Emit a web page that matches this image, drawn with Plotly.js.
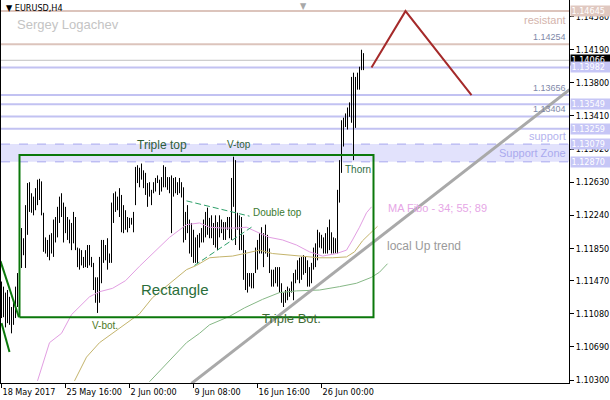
<!DOCTYPE html>
<html><head><meta charset="utf-8">
<script src="https://cdn.plot.ly/plotly-3.0.1.min.js"></script>
<style>html,body{margin:0;padding:0;background:#fff}#chart{width:610px;height:400px}</style>
</head><body><div id="chart"></div>
<script>
// ---- data (EURUSD H4) ----
const barHigh = [1.1146,1.1140,1.1133,1.1136,1.1128,1.1116,1.1121,1.1140,1.1156,1.1185,
1.1209,1.1197,1.1236,1.1262,1.1263,1.1250,1.1246,1.1256,1.1266,1.1267,
1.1264,1.1227,1.1198,1.1195,1.1201,1.1203,1.1219,1.1222,1.1234,1.1246,
1.1250,1.1239,1.1234,1.1222,1.1219,1.1215,1.1228,1.1222,1.1186,1.1185,
1.1183,1.1175,1.1183,1.1189,1.1189,1.1175,1.1168,1.1151,1.1151,1.1175,
1.1195,1.1195,1.1189,1.1197,1.1179,1.1239,1.1250,1.1252,1.1246,1.1256,
1.1248,1.1236,1.1230,1.1222,1.1221,1.1221,1.1228,1.1281,1.1283,1.1280,
1.1285,1.1277,1.1274,1.1262,1.1263,1.1254,1.1263,1.1268,1.1271,1.1266,
1.1269,1.1283,1.1281,1.1269,1.1269,1.1271,1.1268,1.1269,1.1263,1.1268,
1.1263,1.1257,1.1228,1.1236,1.1219,1.1215,1.1207,1.1198,1.1201,1.1203,
1.1209,1.1219,1.1228,1.1233,1.1221,1.1224,1.1215,1.1224,1.1216,1.1224,
1.1219,1.1216,1.1216,1.1222,1.1222,1.1268,1.1293,1.1289,1.1227,1.1224,
1.1222,1.1201,1.1183,1.1156,1.1156,1.1156,1.1156,1.1186,1.1195,1.1203,
1.1210,1.1203,1.1213,1.1201,1.1185,1.1160,1.1160,1.1163,1.1163,1.1163,
1.1144,1.1133,1.1136,1.1140,1.1138,1.1146,1.1156,1.1160,1.1171,1.1174,
1.1175,1.1177,1.1175,1.1171,1.1163,1.1168,1.1186,1.1191,1.1207,1.1204,
1.1201,1.1198,1.1203,1.1210,1.1219,1.1204,1.1198,1.1197,1.1254,1.1289,
1.1336,1.1339,1.1344,1.1351,1.1357,1.1387,1.1392,1.1387,1.1392,1.1399,
1.1419,1.1415];
const barLow = [1.1103,1.1104,1.1092,1.1097,1.1095,1.1085,1.1095,1.1103,1.1116,1.1136,
1.1162,1.1177,1.1162,1.1201,1.1228,1.1227,1.1224,1.1230,1.1236,1.1242,
1.1224,1.1181,1.1179,1.1175,1.1171,1.1179,1.1175,1.1192,1.1198,1.1215,
1.1222,1.1192,1.1203,1.1195,1.1191,1.1183,1.1191,1.1183,1.1163,1.1160,
1.1165,1.1162,1.1163,1.1162,1.1165,1.1163,1.1136,1.1121,1.1109,1.1121,
1.1144,1.1168,1.1171,1.1160,1.1168,1.1168,1.1215,1.1228,1.1230,1.1222,
1.1204,1.1203,1.1207,1.1204,1.1209,1.1213,1.1204,1.1236,1.1262,1.1257,
1.1266,1.1256,1.1248,1.1234,1.1246,1.1236,1.1250,1.1252,1.1262,1.1248,
1.1252,1.1257,1.1257,1.1254,1.1250,1.1203,1.1246,1.1250,1.1248,1.1250,
1.1245,1.1192,1.1195,1.1203,1.1179,1.1175,1.1168,1.1168,1.1168,1.1186,
1.1192,1.1192,1.1198,1.1201,1.1197,1.1197,1.1189,1.1186,1.1183,1.1198,
1.1203,1.1195,1.1195,1.1207,1.1197,1.1195,1.1234,1.1189,1.1207,1.1183,
1.1183,1.1148,1.1136,1.1133,1.1140,1.1138,1.1138,1.1156,1.1160,1.1179,
1.1179,1.1163,1.1179,1.1175,1.1156,1.1140,1.1140,1.1144,1.1140,1.1133,
1.1121,1.1116,1.1121,1.1124,1.1128,1.1133,1.1124,1.1144,1.1148,1.1144,
1.1148,1.1154,1.1156,1.1140,1.1140,1.1144,1.1160,1.1163,1.1171,1.1186,
1.1185,1.1179,1.1179,1.1179,1.1183,1.1179,1.1179,1.1179,1.1179,1.1239,
1.1274,1.1305,1.1328,1.1325,1.1340,1.1333,1.1289,1.1327,1.1372,1.1372,
1.1395,1.1395];

// moving averages (bar index, price)
const ma34X = [18,24,30,35,44,49,55.5,62,69,75.5,84,92.5,99,104,110.5,117.5,122.5,129,134,140.5,147.5,154,160.5,167.5,172.5,175.5,179,182.5,185];
const ma34Y = [1.1029,1.1074,1.1085,1.1107,1.1128,1.1134,1.1138,1.1147,1.1164,1.1179,1.1198,1.1213,1.1215,1.1210,1.1209,1.1209,1.1210,1.1203,1.1198,1.1195,1.1189,1.1181,1.1176,1.1179,1.1183,1.1195,1.1210,1.1227,1.1234];
const ma55X = [36.5,42.5,49,55.5,62.5,69,75.5,84,92.5,97.5,104,109,115.5,121.5,129,135.5,144,152.5,159,165.5,172.5,176.5,180.5,184,188];
const ma55Y = [1.1029,1.1057,1.1074,1.1085,1.1096,1.1108,1.1127,1.1144,1.1160,1.1165,1.1174,1.1175,1.1176,1.1179,1.1183,1.1179,1.1177,1.1175,1.1174,1.1174,1.1175,1.1181,1.1194,1.1202,1.1211];
const ma89X = [74,85.5,92.5,99,104,114,121.5,130.5,139,147.5,159,169,177.5,185,189,193];
const ma89Y = [1.1028,1.1057,1.1074,1.1085,1.1095,1.1105,1.1115,1.1125,1.1133,1.1135,1.1136,1.1140,1.1144,1.1151,1.1157,1.1167];

// drawn objects
const trendX = [95,284], trendY = [1.1026,1.1372];               // local Up trend
const zigX = [185,202,235], zigY = [1.13982,1.14645,1.13656];    // forecast
const rectX = [9,186], rectY = [1.1104,1.1295];                  // Rectangle
const leftLine1X = [-0.5,8.7], leftLine1Y = [1.1170,1.1104];
const leftLine2X = [0,4], leftLine2Y = [1.1097,1.1063];
const dtUpX = [92.5,124], dtUpY = [1.1241,1.1223];
const dtLoX = [96.5,125], dtLoY = [1.1165,1.1210];
const zoneLow = 1.12870, zoneHigh = 1.13079;
const resistLevels = [1.14645,1.14254];
const blueLevels = [1.13982,1.13656,1.13549,1.13404,1.13259];
const bidPrice = 1.14066;

const xTickVals = [0,32,64,96,128,160];
const xTickText = ['18 May 2017','25 May 16:00','2 Jun 00:00','9 Jun 08:00','16 Jun 16:00','26 Jun 00:00'];
const yTickVals = [1.10300,1.10690,1.11080,1.11470,1.11850,1.12240,1.12630,1.13020,1.13410,1.13800,1.14190,1.14580];
const yTickText = yTickVals.map(v=>v.toFixed(5));

// ---- build ----
const bx=[], by=[];
barHigh.forEach((h,i)=>{bx.push(i,i,null); by.push(h,barLow[i],null);});

const axFont = {family:"Tahoma, 'DejaVu Sans Condensed', 'Liberation Sans', sans-serif", size:9, color:'#000'};
const txt = "'Liberation Sans', Arial, sans-serif";
const GREEN = '#0b780b';

const traces = [
  {x:bx,y:by,type:'scatter',mode:'lines',line:{color:'#000',width:1},hoverinfo:'skip'},
  {x:ma34X,y:ma34Y,type:'scatter',mode:'lines',line:{color:'#e29ee2',width:1},hoverinfo:'skip'},
  {x:ma55X,y:ma55Y,type:'scatter',mode:'lines',line:{color:'#c4b46c',width:1},hoverinfo:'skip'},
  {x:ma89X,y:ma89Y,type:'scatter',mode:'lines',line:{color:'#86b886',width:1},hoverinfo:'skip'},
  {x:trendX,y:trendY,type:'scatter',mode:'lines',line:{color:'#a9a9a9',width:3},hoverinfo:'skip'},
  {x:zigX,y:zigY,type:'scatter',mode:'lines',line:{color:'#a52a2a',width:2},hoverinfo:'skip'},
  {x:[rectX[0],rectX[1],rectX[1],rectX[0],rectX[0]],y:[rectY[0],rectY[0],rectY[1],rectY[1],rectY[0]],type:'scatter',mode:'lines',line:{color:GREEN,width:2},hoverinfo:'skip'},
  {x:leftLine1X,y:leftLine1Y,type:'scatter',mode:'lines',line:{color:GREEN,width:2},hoverinfo:'skip'},
  {x:leftLine2X,y:leftLine2Y,type:'scatter',mode:'lines',line:{color:GREEN,width:2},hoverinfo:'skip'},
  {x:dtUpX,y:dtUpY,type:'scatter',mode:'lines',line:{color:'#2ea06a',width:1,dash:'6px,3px'},hoverinfo:'skip'},
  {x:dtLoX,y:dtLoY,type:'scatter',mode:'lines',line:{color:'#2ea06a',width:1,dash:'6px,3px'},hoverinfo:'skip'}
];

const shapes = [
  {type:'rect',xref:'paper',x0:0,x1:1,yref:'y',y0:zoneLow,y1:zoneHigh,fillcolor:'#e2e2fc',line:{width:0},layer:'below'},
  {type:'line',xref:'paper',x0:0,x1:1,yref:'y',y0:zoneLow,y1:zoneLow,line:{color:'#a8a8ee',width:1,dash:'dash'},layer:'below'},
  {type:'line',xref:'paper',x0:0,x1:1,yref:'y',y0:zoneHigh,y1:zoneHigh,line:{color:'#a8a8ee',width:1,dash:'dash'},layer:'below'},
  {type:'line',xref:'paper',x0:0,x1:1,yref:'y',y0:bidPrice,y1:bidPrice,line:{color:'#c0c0c0',width:1},layer:'below'}
];
resistLevels.forEach(p=>shapes.push({type:'line',xref:'paper',x0:0,x1:1,yref:'y',y0:p,y1:p,line:{color:'#dcc4bc',width:2},layer:'below'}));
blueLevels.forEach(p=>shapes.push({type:'line',xref:'paper',x0:0,x1:1,yref:'y',y0:p,y1:p,line:{color:'#c2c2f2',width:2},layer:'below'}));

const ann = [];
function label(text,x,y,size,color,opts){ann.push(Object.assign({text:text,x:x,y:y,xref:'x',yref:'y',showarrow:false,font:{family:txt,size:size,color:color}},opts||{}));}
label('Triple top',80,1.1307,12,'#2f5f38');
label('V-top',118.5,1.1307,10,'#2f5f38');
label('Double top',138,1.1227,10,'#3a7a30');
label('Rectangle',86.5,1.1137,15,'#2a6e3a');
label('V-bot.',51.5,1.1094,10,'#4e7a28');
label('Triple Bot.',145,1.1102,13,'#3f6a34');
label('Thorn',178,1.1278,10,'#2e6e46');
label('MA Fibo - 34; 55; 89',192,1.1233,11,'#e6a6e6',{xanchor:'left'});
label('local Up trend',191.5,1.1188,12,'#9a9a9a',{xanchor:'left'});
// right side texts
function rtext(text,y,size,color,yanchor){ann.push({text:text,xref:'paper',x:1,xanchor:'right',xshift:-1,yref:'y',y:y,yanchor:yanchor||'middle',showarrow:false,font:{family:txt,size:size,color:color}});}
rtext('resistant',1.1454,11,'#d4b4ac');
rtext('1.14254',resistLevels[1],9,'#8088a8','bottom');
rtext('1.13656',blueLevels[1],9,'#8088a8','bottom');
rtext('1.13404',blueLevels[3],9,'#8088a8','bottom');
rtext('support',1.1317,11,'#b4b4ee');
rtext('Support Zone',1.1297,11,'#aaaaee');
// price boxes on the axis
function box(p,bg){ann.push({text:p.toFixed(5),xref:'paper',x:1,xanchor:'left',xshift:1,yref:'y',y:p,yanchor:'middle',showarrow:false,bgcolor:bg,borderpad:0.5,width:39,height:9,align:'left',font:{family:axFont.family,size:9,color:'#fff'}});}
box(resistLevels[0],'#e0c8c0');
box(bidPrice,'#000000');
box(blueLevels[0],'#c6c6f6');
box(blueLevels[2],'#c6c6f6');
box(blueLevels[4],'#c6c6f6');
box(zoneHigh,'#c6c6f6');
box(zoneLow,'#c6c6f6');
// header
ann.push({text:'▼ EURUSD,H4',xref:'paper',x:0,xanchor:'left',xshift:3,yref:'paper',y:1,yanchor:'top',yshift:-1,showarrow:false,font:{family:axFont.family,size:9,color:'#000'}});
ann.push({text:'Sergey Logachev',xref:'paper',x:0,xanchor:'left',xshift:14,yref:'paper',y:1,yanchor:'top',yshift:-15,showarrow:false,font:{family:txt,size:13,color:'#c4c4c4'}});
ann.push({text:'▼',xref:'paper',x:0.532,xanchor:'center',yref:'paper',y:1,yanchor:'top',yshift:1,showarrow:false,font:{family:axFont.family,size:9,color:'#a8a8a8'}});

const layout = {
  width:610,height:400,
  margin:{l:1,r:41,t:0,b:17,pad:0,autoexpand:false},
  paper_bgcolor:'#ffffff',plot_bgcolor:'#ffffff',showlegend:false,
  xaxis:{range:[-0.25,283.75],showgrid:false,zeroline:false,showline:true,linecolor:'#000',linewidth:1,
    ticks:'outside',ticklen:4,tickcolor:'#000',tickvals:xTickVals,ticktext:xTickText,
    ticklabelposition:'outside right',tickfont:axFont,fixedrange:true},
  yaxis:{range:[1.10265,1.14776],side:'right',showgrid:false,zeroline:false,showline:true,mirror:true,
    linecolor:'#000',linewidth:1,ticks:'outside',ticklen:4,tickcolor:'#000',
    tickvals:yTickVals,ticktext:yTickText,tickfont:axFont,fixedrange:true},
  shapes:shapes,annotations:ann
};
Plotly.newPlot('chart',traces,layout,{displayModeBar:false,staticPlot:true});
</script></body></html>
